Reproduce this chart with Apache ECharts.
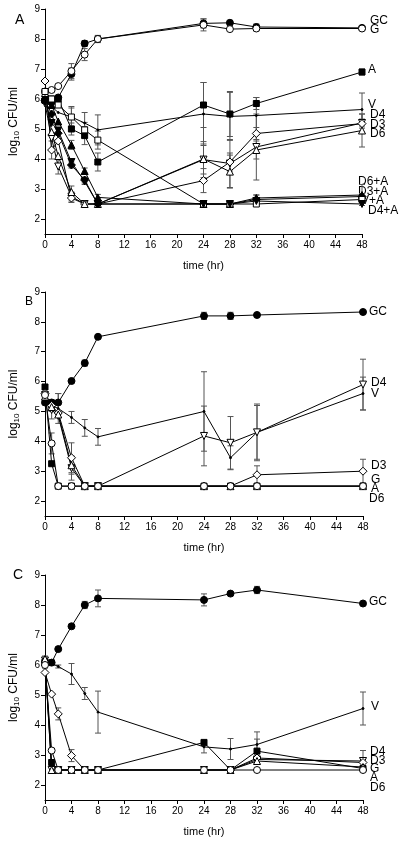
<!DOCTYPE html>
<html><head><meta charset="utf-8">
<script src="https://cdn.jsdelivr.net/npm/echarts@6/dist/echarts.min.js"></script>
<style>html,body{margin:0;padding:0;background:#fff}#c{width:400px;height:842px}</style>
</head><body><div id="c"></div>
<script>
// ---------- DATA ----------
const times = [0, 1, 2, 4, 6, 8, 24, 28, 32, 48];
const xTickLabels = [0, 4, 8, 12, 16, 20, 24, 28, 32, 36, 40, 44, 48];
const yTickLabels = [2, 3, 4, 5, 6, 7, 8, 9];

// Panel A
const aNames = ['GC', 'G', 'A', 'V', 'D4', 'D3', 'D6', 'D6+A', 'D3+A', 'V+A', 'D4+A'];
const aGC   = [5.95, 5.9, 6.05, 6.83, 7.85, 8.0, 8.52, 8.54, 8.4, 8.37];
const aG    = [6.25, 6.3, 6.43, 6.93, 7.48, 8.0, 8.47, 8.33, 8.35, 8.35];
const aA    = [5.95, 6.0, 6.0, 5.0, 4.78, 3.9, 5.8, 5.5, 5.85, 6.9];
const aV    = [5.9, 5.75, 5.55, 5.4, 5.2, 4.97, 5.5, 5.42, 5.45, 5.65];
const aD4   = [5.85, 4.7, 3.75, 2.75, 2.5, 2.5, 3.98, 3.85, 4.4, 5.2];
const aD3   = [6.6, 4.3, 4.6, 2.7, 2.5, 2.5, 3.28, 3.9, 4.85, 5.18];
const aD6   = [6.2, 4.9, 4.1, 2.9, 2.5, 2.5, 4.0, 3.58, 4.3, 4.95];
const aD6A  = [6.0, 5.8, 5.25, 4.47, 3.6, 2.72, 2.5, 2.5, 2.7, 2.8];
const aD3A  = [5.95, 5.5, 4.86, 3.8, 3.3, 2.5, 2.5, 2.5, 2.65, 2.75];
const aVA   = [6.25, 6.0, 5.8, 5.4, 4.97, 4.63, 2.5, 2.5, 2.5, 2.65];
const aD4A  = [5.9, 5.2, 4.95, 3.9, 3.25, 2.5, 2.5, 2.5, 2.6, 2.5];
// error half-widths (0 = none)
const aGCerr  = [0, 0, 0, 0.2, 0.1, 0.1, 0.15, 0.08, 0.1, 0.05];
const aGerr   = [0, 0, 0, 0.25, 0.2, 0.12, 0.2, 0.05, 0.08, 0.05];
const aAerr   = [0, 0, 0, 0.2, 0.3, 0.3, 0.75, 0.75, 0.2, 0.1];
const aVerr   = [0, 0, 0, 0.35, 0.35, 0.5, 1.05, 0.8, 0.6, 0.55];
const aD4err  = [0, 0, 0.25, 0.15, 0, 0, 0.6, 0.8, 1.1, 0.3];
const aD3err  = [0, 0.3, 0, 0.15, 0, 0, 0.4, 0.3, 0.2, 0.15];
const aD6err  = [0, 0, 0, 0.2, 0, 0, 0.5, 0.55, 0.3, 0.55];
const aD6Aerr = [0, 0, 0, 0.15, 0.1, 0.1, 0, 0, 0.1, 0.35];
const aD3Aerr = [0, 0, 0, 0.1, 0.1, 0, 0, 0, 0.15, 0.1];
const aVAerr  = [0, 0, 0, 0.3, 0.25, 0.3, 0, 0, 0, 0.1];
const aD4Aerr = [0, 0, 0, 0.1, 0.1, 0, 0, 0, 0.1, 0.05];

// Panel B
const bNames = ['GC', 'A', 'V', 'D4', 'D3', 'D6', 'G'];
const bGC  = [5.3, 5.3, 5.3, 6.02, 6.62, 7.5, 8.2, 8.2, 8.23, 8.33];
const bA   = [5.82, 3.25, 2.5, 2.5, 2.5, 2.5, 2.5, 2.5, 2.5, 2.5];
const bV   = [5.3, 5.2, 5.1, 4.8, 4.45, 4.15, 5.0, 3.45, 4.3, 5.6];
const bD4  = [5.55, 5.05, 4.85, 3.1, 2.5, 2.5, 4.18, 3.95, 4.3, 5.9];
const bD3  = [5.6, 5.2, 4.95, 3.45, 2.5, 2.5, 2.5, 2.5, 2.88, 3.0];
const bD6  = [5.5, 5.15, 4.9, 3.2, 2.5, 2.5, 2.5, 2.5, 2.5, 2.5];
const bG   = [5.55, 3.93, 2.5, 2.5, 2.5, 2.5, 2.5, 2.5, 2.5, 2.5];
const bGCerr = [0, 0, 0.3, 0, 0.1, 0, 0.12, 0.12, 0, 0];
const bAerr  = [0, 0, 0, 0, 0, 0, 0, 0, 0, 0];
const bVerr  = [0, 0.2, 0.5, 0.2, 0.28, 0.28, 1.33, 0.4, 0.9, 0.55];
const bD4err = [0, 0.3, 0, 0.4, 0, 0, 1.0, 0.88, 0.95, 0.85];
const bD3err = [0, 0, 0, 0.5, 0, 0, 0, 0, 0.3, 0.4];
const bD6err = [0, 0, 0, 0.3, 0, 0, 0, 0, 0, 0];
const bGerr  = [0, 0.35, 0, 0, 0, 0, 0, 0, 0, 0];

// Panel C
const cNames = ['GC', 'V', 'D4', 'D3', 'A', 'D6', 'G'];
const cGC  = [6.1, 6.08, 6.53, 7.29, 8.0, 8.22, 8.17, 8.38, 8.5, 8.05];
const cV   = [6.2, 6.05, 5.95, 5.7, 5.05, 4.43, 3.27, 3.2, 3.35, 4.55];
const cD4  = [6.15, 2.5, 2.5, 2.5, 2.5, 2.5, 2.5, 2.5, 2.85, 2.8];
const cD3  = [5.75, 5.03, 4.37, 2.98, 2.5, 2.5, 2.5, 2.5, 2.9, 2.75];
const cA   = [6.1, 2.75, 2.5, 2.5, 2.5, 2.5, 3.42, 2.5, 3.13, 2.55];
const cD6  = [6.2, 2.5, 2.5, 2.5, 2.5, 2.5, 2.5, 2.5, 2.8, 2.6];
const cG   = [6.0, 3.15, 2.5, 2.5, 2.5, 2.5, 2.5, 2.5, 2.5, 2.5];
const cGCerr = [0.2, 0.1, 0, 0, 0.12, 0.28, 0.2, 0, 0.12, 0];
const cVerr  = [0, 0, 0.05, 0.35, 0.2, 0.7, 0.2, 0.35, 0.42, 0.55];
const cD4err = [0, 0, 0, 0, 0, 0, 0, 0, 0, 0.35];
const cD3err = [0, 0, 0.2, 0.2, 0, 0, 0, 0, 0.15, 0];
const cAerr  = [0, 0, 0, 0, 0, 0, 0, 0, 0.4, 0];
const cD6err = [0, 0, 0, 0, 0, 0, 0, 0, 0, 0];
const cGerr  = [0, 0, 0, 0, 0, 0, 0, 0, 0, 0];

// ---------- STYLES ----------
const mk = {
  'GC':   {symbol: 'circle', fill: '#000', size: 7},
  'G':    {symbol: 'circle', fill: '#fff', size: 7},
  'A':    {symbol: 'rect', fill: '#000', size: 6},
  'V':    {symbol: 'circle', fill: '#000', size: 2},
  'D4':   {symbol: 'triangle', fill: '#fff', size: 7, rot: 180},
  'D3':   {symbol: 'diamond', fill: '#fff', size: 8},
  'D6':   {symbol: 'triangle', fill: '#fff', size: 7},
  'D6+A': {symbol: 'triangle', fill: '#000', size: 7},
  'D3+A': {symbol: 'diamond', fill: '#000', size: 8},
  'V+A':  {symbol: 'rect', fill: '#fff', size: 6},
  'D4+A': {symbol: 'triangle', fill: '#000', size: 7, rot: 180}
};

const panels = [
  {names: aNames, vals: [aGC, aG, aA, aV, aD4, aD3, aD6, aD6A, aD3A, aVA, aD4A],
   errs: [aGCerr, aGerr, aAerr, aVerr, aD4err, aD3err, aD6err, aD6Aerr, aD3Aerr, aVAerr, aD4Aerr]},
  {names: bNames, vals: [bGC, bA, bV, bD4, bD3, bD6, bG],
   errs: [bGCerr, bAerr, bVerr, bD4err, bD3err, bD6err, bGerr]},
  {names: cNames, vals: [cGC, cV, cD4, cD3, cA, cD6, cG],
   errs: [cGCerr, cVerr, cD4err, cD3err, cAerr, cD6err, cGerr]}
];

const grids = [
  {left: 41, top: 9, width: 321, height: 225},
  {left: 42, top: 292, width: 321, height: 224},
  {left: 42, top: 575, width: 321, height: 225}
];

const font = 'Liberation Sans, Arial, sans-serif';
const xAxes = [], yAxes = [], series = [];
grids.forEach((g, i) => {
  xAxes.push({
    type: 'value', gridIndex: i, min: 0, max: 48, interval: 4,
    axisLine: {lineStyle: {color: '#000', width: 1}},
    axisTick: {inside: false, length: 4, lineStyle: {color: '#000'}},
    axisLabel: {color: '#000', fontSize: 10, fontFamily: font, margin: 6,
      customValues: xTickLabels},
    splitLine: {show: false},
    name: 'time (hr)', nameLocation: 'middle', nameGap: 26,
    nameTextStyle: {color: '#000', fontSize: 11, fontFamily: font}
  });
  yAxes.push({
    type: 'value', gridIndex: i, min: 1.5, max: 9,
    axisLine: {show: true, lineStyle: {color: '#000', width: 1}},
    axisTick: {show: true, inside: false, length: 4, lineStyle: {color: '#000'}, customValues: yTickLabels},
    axisLabel: {color: '#000', fontSize: 10, fontFamily: font, margin: 5, customValues: yTickLabels},
    splitLine: {show: false},
    name: '{a|log}{s|10}{a| CFU/ml}', nameLocation: 'middle', nameGap: 24,
    nameTextStyle: {color: '#000', fontFamily: font,
      rich: {a: {fontSize: 12, fontFamily: font, color: '#000'},
             s: {fontSize: 8, fontFamily: font, color: '#000', verticalAlign: 'bottom', padding: [6, 0, 0, 0]}}}
  });
});

panels.forEach((p, pi) => {
  const errData = [];
  p.names.forEach((n, si) => {
    times.forEach((t, ti) => {
      const e = p.errs[si][ti];
      if (e > 0) errData.push([t, p.vals[si][ti], e]);
    });
  });
  series.push({
    type: 'custom', xAxisIndex: pi, yAxisIndex: pi, z: 1, silent: true,
    data: errData,
    renderItem: function (params, api) {
      const x = api.value(0), y = api.value(1), e = api.value(2);
      const top = api.coord([x, y + e]);
      const bot = api.coord([x, y - e]);
      const st = {stroke: '#555', lineWidth: 1};
      return {type: 'group', children: [
        {type: 'line', shape: {x1: top[0], y1: top[1], x2: bot[0], y2: bot[1]}, style: st},
        {type: 'line', shape: {x1: top[0] - 3, y1: top[1], x2: top[0] + 3, y2: top[1]}, style: st},
        {type: 'line', shape: {x1: bot[0] - 3, y1: bot[1], x2: bot[0] + 3, y2: bot[1]}, style: st}
      ]};
    }
  });
  p.names.forEach((n, si) => {
    const m = mk[n];
    series.push({
      type: 'line', name: n, xAxisIndex: pi, yAxisIndex: pi, z: 3,
      data: times.map((t, ti) => [t, p.vals[si][ti]]),
      symbol: m.symbol, symbolSize: m.size, symbolRotate: m.rot || 0,
      showAllSymbol: true,
      lineStyle: {color: '#000', width: 1},
      itemStyle: {color: m.fill, borderColor: '#000', borderWidth: 1},
      emphasis: {disabled: true}, animation: false
    });
  });
});

const rlabels = [
  ['GC', 370, 22], ['G', 370, 31], ['A', 368, 71], ['V', 368, 106], ['D4', 370, 116],
  ['D3', 370, 126], ['D6', 370, 135], ['D6+A', 358, 183], ['D3+A', 358, 193],
  ['V+A', 361, 202], ['D4+A', 368, 212],
  ['GC', 369, 313], ['D4', 371, 384], ['V', 371, 395], ['D3', 371, 467],
  ['G', 371, 481], ['A', 371, 490], ['D6', 369, 500],
  ['GC', 369, 603], ['V', 371, 708], ['D4', 370, 753], ['D3', 370, 762],
  ['G', 370, 770], ['A', 370, 779], ['D6', 370, 789]
];
const graphics = rlabels.map(r => ({
  type: 'text', left: r[1], top: r[2] - 7,
  style: {text: r[0], fontSize: 12, fontFamily: font, fill: '#000'}
}));
graphics.push({type: 'text', left: 15, top: 13, style: {text: 'A', fontSize: 14, fontFamily: font, fill: '#000'}});
graphics.push({type: 'text', left: 25, top: 296, style: {text: 'B', fontSize: 12, fontFamily: font, fill: '#000'}});
graphics.push({type: 'text', left: 13, top: 568, style: {text: 'C', fontSize: 14, fontFamily: font, fill: '#000'}});

const chart = echarts.init(document.getElementById('c'), null, {renderer: 'canvas'});
chart.setOption({
  animation: false,
  backgroundColor: '#fff',
  grid: grids,
  xAxis: xAxes,
  yAxis: yAxes,
  series: series,
  graphic: graphics
});
</script>
</body></html>
